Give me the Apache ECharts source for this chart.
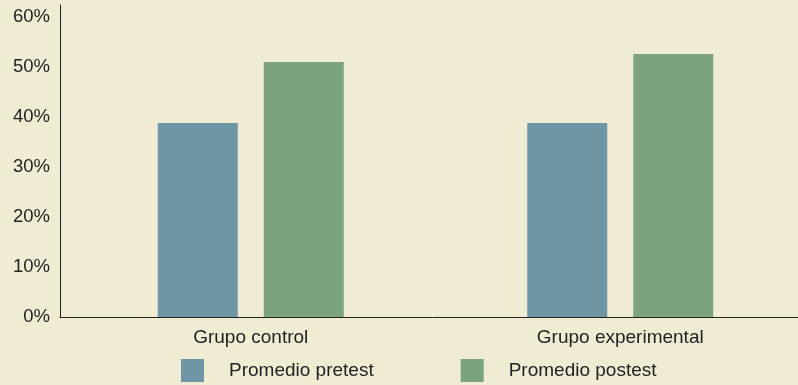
<!DOCTYPE html>
<html><head><meta charset="utf-8">
<script src="https://cdn.jsdelivr.net/npm/echarts@6/dist/echarts.min.js"></script>
<style>html,body{margin:0;padding:0;background:#f0ecd4;overflow:hidden;}#c{width:805px;height:385px;}</style>
</head><body><div id="c"></div>
<script>
const categories = ['Grupo control', 'Grupo experimental'];
const seriesNames = ['Promedio pretest', 'Promedio postest'];
const pretest = [38.8, 38.8];
const postest = [51.0, 52.6];

const chart = echarts.init(document.getElementById('c'));
const font = 'Liberation Sans, Arial, sans-serif';
chart.setOption({
  backgroundColor: '#f0ecd4',
  animation: false,
  textStyle: { fontFamily: font },
  grid: [
    { left: 66, right: 0, top: 5, bottom: 68, containLabel: false },
    { left: 60, right: 0, top: 5, bottom: 68, containLabel: false }
  ],
  legend: {
    left: 181, top: 359, padding: 0, itemWidth: 23, itemHeight: 23, itemGap: 87,
    icon: 'rect',
    textStyle: { fontFamily: font, fontSize: 19, color: '#222', padding: [0, 0, 0, 20] },
    data: seriesNames
  },
  xAxis: [{
    type: 'category', data: categories, gridIndex: 0,
    axisLine: { show: false },
    axisTick: { show: false },
    axisLabel: { fontFamily: font, fontSize: 19, color: '#222', margin: 11 },
    splitLine: { show: false }
  }, {
    type: 'value', gridIndex: 1, min: 0, max: 1,
    axisLine: { show: true, lineStyle: { color: '#222', width: 1 } },
    axisTick: { show: false }, axisLabel: { show: false }, splitLine: { show: false }
  }],
  yAxis: [{
    type: 'value', min: 0, max: 62.4, interval: 10, offset: 6, gridIndex: 0,
    axisLine: { show: true, lineStyle: { color: '#222', width: 1 } },
    axisTick: { show: false },
    splitLine: { show: false },
    axisLabel: { fontFamily: font, fontSize: 18.5, color: '#222', margin: 10, showMaxLabel: false,
      formatter: v => (v % 10 === 0 ? v + '%' : '') }
  }, {
    type: 'value', gridIndex: 1, show: false, min: 0, max: 1
  }],
  series: [
    { name: seriesNames[0], type: 'bar', data: pretest, barWidth: 80, barGap: '32.5%', itemStyle: { color: '#6f96a5' } },
    { name: seriesNames[1], type: 'bar', data: postest, barWidth: 80, barGap: '32.5%', itemStyle: { color: '#7ba47c' } }
  ]
});
</script></body></html>
